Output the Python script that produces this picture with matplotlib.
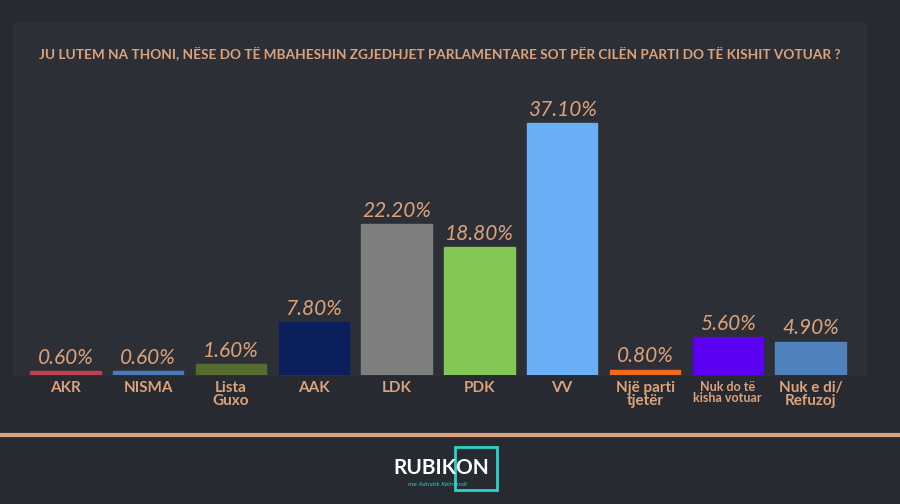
import matplotlib
matplotlib.use("Agg")
import matplotlib.pyplot as plt
from matplotlib.patches import Rectangle

categories = ["AKR", "NISMA", "Lista\nGuxo", "AAK", "LDK", "PDK", "VV", "Një parti\ntjetër", "Nuk do të\nkisha votuar", "Nuk e di/\nRefuzoj"]
values = [0.6, 0.6, 1.6, 7.8, 22.2, 18.8, 37.1, 0.8, 5.6, 4.9]
colors = ["#c0404f", "#4a7ab8", "#556b2f", "#0a1f5c", "#7f7f80", "#84c653", "#6aaef5", "#f06a1e", "#5b00f0", "#4f81bd"]
title = "JU LUTEM NA THONI, NËSE DO TË MBAHESHIN ZGJEDHJET PARLAMENTARE SOT PËR CILËN PARTI DO TË KISHIT VOTUAR ?"

BG = "#272b31"
PANEL = "#2c3036"
TXT = "#dba27c"
W, H = 900, 504
fig = plt.figure(figsize=(9, 5.04), dpi=100, facecolor=BG)
fig.patches.append(Rectangle((13 / W, 1 - 375 / H), 853 / W, 353 / H, transform=fig.transFigure, color=PANEL, zorder=-5))
fig.text(440 / W, 1 - 53 / H, title, color=TXT, fontsize=9.8, fontweight="bold", family="Lato", ha="center", va="center")

ax = fig.add_axes([24 / W, 1 - 375 / H, 828 / W, 285 / H])
ax.set_zorder(2)
ax.set_facecolor("none")
x = range(len(values))
ax.bar(x, values, width=0.85, color=colors, edgecolor=colors)
for i, v in zip(x, values):
    ax.text(i, v + 0.5, f"{v:.2f}%", color=TXT, fontsize=15, style="italic", ha="center", va="bottom", family="Lato")
ax.set_xlim(-0.5, 9.5)
ax.set_ylim(0, 285 / 6.79)
ax.set_xticks(list(x))
ax.set_xticklabels(categories, color=TXT, fontweight="bold", family="Lato", linespacing=0.95)
for i, lbl in enumerate(ax.get_xticklabels()):
    lbl.set_fontsize(9 if i == 8 else 11)
ax.tick_params(axis="x", length=0, pad=4)
ax.set_yticks([])
for s in ax.spines.values():
    s.set_visible(False)

fig.add_artist(plt.Line2D([0, 1], [1 - 435 / H] * 2, color="#d9a07c", lw=3, transform=fig.transFigure))
fig.text(393 / W, 1 - 468 / H, "RUBIKON", color="white", fontsize=15, fontweight="bold", family="Lato", ha="left", va="center")
fig.patches.append(Rectangle((455 / W, 1 - 490 / H), 42 / W, 43 / H, transform=fig.transFigure, fill=False, edgecolor="#2ad4c4", lw=2))
fig.text(408 / W, 1 - 485 / H, "me Adriatik Kelmendi", color="#2ad4c4", fontsize=4, style="italic", ha="left", va="center")

fig.savefig("out.png", dpi=100, facecolor=BG)
